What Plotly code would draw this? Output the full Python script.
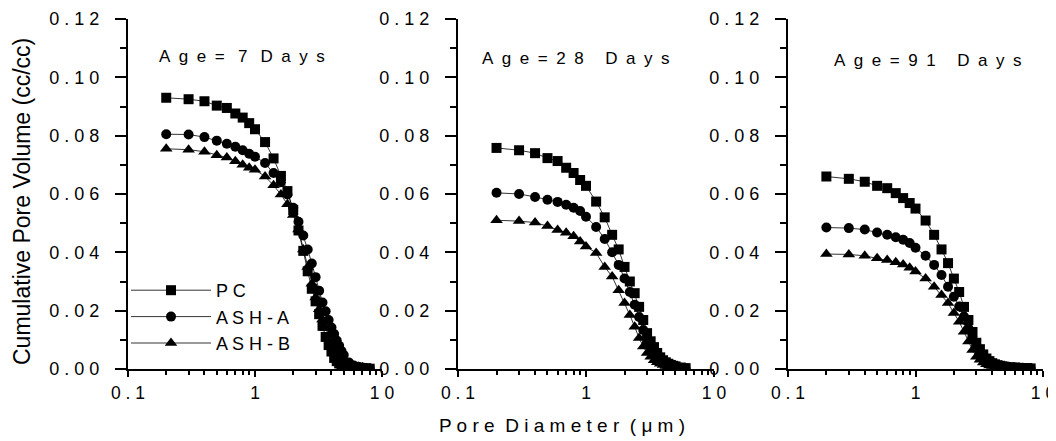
import plotly.graph_objects as go

# pore diameters (um)
x_full = [0.2, 0.3, 0.4, 0.5, 0.6, 0.7, 0.8, 0.9, 1.0,
          1.2, 1.4, 1.6, 1.8, 2.0, 2.2, 2.4, 2.6, 2.8, 3.0,
          3.2, 3.4, 3.6, 3.8, 4.0, 4.2, 4.4, 4.6, 4.8, 5.0,
          5.5, 6.0, 6.5, 7.0, 7.5, 8.0]
x_28 = x_full[:31]  # 28 day runs stop at 6 um

# 7 days
pc_7 = [0.0930, 0.0925, 0.0918, 0.0903, 0.0895, 0.0876, 0.0862, 0.0843, 0.0822,
        0.0778, 0.0722, 0.0662, 0.0610, 0.0545, 0.0475, 0.0405, 0.0335, 0.0275, 0.0232,
        0.0188, 0.0148, 0.0110, 0.0082, 0.0060, 0.0038, 0.0027, 0.0019, 0.0014, 0.0011,
        0.0007, 0.0005, 0.0004, 0.0003, 0.0002, 0.0001]
asha_7 = [0.0805, 0.0804, 0.0795, 0.0783, 0.0772, 0.0762, 0.0750, 0.0738, 0.0728,
          0.0706, 0.0672, 0.0640, 0.0598, 0.0553, 0.0505, 0.0458, 0.0410, 0.0362, 0.0315,
          0.0268, 0.0228, 0.0198, 0.0168, 0.0142, 0.0120, 0.0098, 0.0080, 0.0062, 0.0048,
          0.0022, 0.0012, 0.0008, 0.0005, 0.0003, 0.0002]
ashb_7 = [0.0755, 0.0752, 0.0745, 0.0733, 0.0725, 0.0712, 0.0700, 0.0690, 0.0683,
          0.0660, 0.0630, 0.0598, 0.0565, 0.0528, 0.0478, 0.0410, 0.0350, 0.0292, 0.0245,
          0.0205, 0.0170, 0.0140, 0.0115, 0.0090, 0.0070, 0.0055, 0.0042, 0.0032, 0.0025,
          0.0015, 0.0010, 0.0007, 0.0005, 0.0003, 0.0002]

# 28 days
pc_28 = [0.0758, 0.0750, 0.0740, 0.0723, 0.0713, 0.0690, 0.0672, 0.0648, 0.0628,
         0.0574, 0.0520, 0.0460, 0.0410, 0.0350, 0.0300, 0.0260, 0.0213, 0.0168, 0.0123,
         0.0095, 0.0075, 0.0055, 0.0040, 0.0030, 0.0023, 0.0018, 0.0014, 0.0011, 0.0009,
         0.0005, 0.0003]
asha_28 = [0.0604, 0.0600, 0.0590, 0.0580, 0.0573, 0.0563, 0.0553, 0.0542, 0.0522,
           0.0487, 0.0446, 0.0400, 0.0357, 0.0310, 0.0264, 0.0220, 0.0178, 0.0134, 0.0093,
           0.0070, 0.0052, 0.0038, 0.0028, 0.0020, 0.0015, 0.0012, 0.0010, 0.0008, 0.0006,
           0.0004, 0.0002]
ashb_28 = [0.0510, 0.0507, 0.0502, 0.0490, 0.0477, 0.0467, 0.0455, 0.0437, 0.0420,
           0.0398, 0.0350, 0.0317, 0.0270, 0.0226, 0.0185, 0.0145, 0.0106, 0.0077, 0.0055,
           0.0042, 0.0030, 0.0023, 0.0018, 0.0014, 0.0010, 0.0008, 0.0006, 0.0005, 0.0004,
           0.0003, 0.0002]

# 91 days
pc_91 = [0.0660, 0.0652, 0.0642, 0.0628, 0.0620, 0.0603, 0.0586, 0.0569, 0.0550,
         0.0509, 0.0460, 0.0410, 0.0363, 0.0310, 0.0264, 0.0213, 0.0168, 0.0127, 0.0090,
         0.0068, 0.0050, 0.0036, 0.0027, 0.0020, 0.0016, 0.0013, 0.0011, 0.0009, 0.0008,
         0.0006, 0.0005, 0.0004, 0.0003, 0.0003, 0.0002]
asha_91 = [0.0485, 0.0483, 0.0478, 0.0468, 0.0460, 0.0452, 0.0443, 0.0432, 0.0416,
           0.0388, 0.0357, 0.0322, 0.0282, 0.0248, 0.0214, 0.0180, 0.0140, 0.0106, 0.0078,
           0.0058, 0.0040, 0.0030, 0.0022, 0.0017, 0.0013, 0.0011, 0.0009, 0.0008, 0.0007,
           0.0006, 0.0005, 0.0004, 0.0003, 0.0003, 0.0002]
ashb_91 = [0.0394, 0.0393, 0.0388, 0.0380, 0.0374, 0.0366, 0.0358, 0.0347, 0.0334,
           0.0310, 0.0282, 0.0254, 0.0226, 0.0192, 0.0162, 0.0128, 0.0094, 0.0065, 0.0042,
           0.0032, 0.0022, 0.0016, 0.0012, 0.0010, 0.0008, 0.0007, 0.0006, 0.0005, 0.0004,
           0.0003, 0.0003, 0.0002, 0.0002, 0.0001, 0.0001]

series_names = ['P C', 'A S H - A', 'A S H - B']
symbols = ['square', 'circle', 'triangle-up']
marker_sizes = [10, 10, 11]
E = '\u2002'  # en space, for the wide letter spacing of the original
age_labels = [E.join('Age=') + E + ' ' + '7' + E + ' ' + E.join('Days'),
              E.join('Age=28') + E + ' ' + E + E.join('Days'),
              E.join('Age=91') + E + ' ' + E + E.join('Days')]

y_ticks = [0, 0.02, 0.04, 0.06, 0.08, 0.10, 0.12]
y_ticktext = ['0 . 0 0', '0 . 0 2', '0 . 0 4', '0 . 0 6', '0 . 0 8', '0 . 1 0', '0 . 1 2']
x_ticks = [0.1, 1, 10]
x_ticktext = ['0 . 1', '1', '1 0']
x_minor = [0.2, 0.3, 0.4, 0.5, 0.6, 0.7, 0.8, 0.9, 2, 3, 4, 5, 6, 7, 8, 9]

panels = [
    (x_full, [pc_7, asha_7, ashb_7]),
    (x_28, [pc_28, asha_28, ashb_28]),
    (x_full, [pc_91, asha_91, ashb_91]),
]

# the page body adds an 8px margin, so lay out in page pixels minus that
OFF = 8
W, H = 1056 - OFF, 441 - OFF
x_px = [(128, 382), (458, 714), (788, 1043)]
y_top, y_bot = 19, 369


def px_x(p):
    return (p - OFF) / W


def px_y(p):
    return 1 - (p - OFF) / H


FONT = 'Arial, Liberation Sans, sans-serif'

fig = go.Figure()
for i, (xs, ys_list) in enumerate(panels):
    n = '' if i == 0 else str(i + 1)
    for j, ys in enumerate(ys_list):
        fig.add_trace(go.Scatter(
            x=xs, y=ys, mode='lines+markers',
            name=series_names[j], showlegend=(i == 0),
            xaxis='x' + n, yaxis='y' + n,
            line=dict(color='black', width=0.8),
            marker=dict(symbol=symbols[j], size=marker_sizes[j], color='black'),
        ))

    ax = dict(
        type='log', range=[-1, 1],
        domain=[px_x(x_px[i][0]), px_x(x_px[i][1])],
        anchor='y' + n, automargin=False,
        showline=True, linewidth=2, linecolor='black',
        showgrid=False, zeroline=False,
        ticks='outside', ticklen=6, tickwidth=2, tickcolor='black',
        tickmode='array', tickvals=x_ticks, ticktext=x_ticktext,
        tickfont=dict(family=FONT, size=17.5, color='black'),
        ticklabelstandoff=1,
        minor=dict(tickmode='array', tickvals=x_minor, ticks='outside',
                   ticklen=4, tickwidth=1.5, tickcolor='black'),
    )
    ay = dict(
        range=[0, 0.12],
        domain=[px_y(y_bot), px_y(y_top)],
        anchor='x' + n, automargin=False,
        showline=True, linewidth=2, linecolor='black',
        showgrid=False, zeroline=False,
        ticks='outside', ticklen=11, tickwidth=2, tickcolor='black',
        tickmode='array', tickvals=y_ticks, ticktext=y_ticktext,
        tickfont=dict(family=FONT, size=18, color='black'),
        ticklabelstandoff=12,
        minor=dict(dtick=0.01, ticks='outside', ticklen=6,
                   tickwidth=1.5, tickcolor='black'),
    )
    fig.update_layout(**{'xaxis' + n: ax, 'yaxis' + n: ay})

# panel titles
age_pos = [(242, 57), (576, 58), (928, 61)]
for k, txt in enumerate(age_labels):
    fig.add_annotation(x=px_x(age_pos[k][0]), y=px_y(age_pos[k][1]),
                       xref='paper', yref='paper', xanchor='center', yanchor='middle',
                       text=txt, showarrow=False,
                       font=dict(family=FONT, size=17, color='black'))

# axis titles
fig.add_annotation(x=px_x(562), y=px_y(425), xref='paper', yref='paper',
                   xanchor='center', yanchor='middle',
                   text='P o r e  D i a m e t e r  ( \u03bc m )', showarrow=False,
                   font=dict(family=FONT, size=19, color='black'))
fig.add_annotation(x=px_x(22), y=px_y(202), xref='paper', yref='paper',
                   xanchor='center', yanchor='middle',
                   text='Cumulative Pore Volume (cc/cc)', textangle=-90, showarrow=False,
                   font=dict(family=FONT, size=23, color='black'))

fig.update_layout(
    width=W, height=H,
    margin=dict(l=0, r=0, t=0, b=0, autoexpand=False),
    paper_bgcolor='white', plot_bgcolor='white',
    legend=dict(x=px_x(126), y=px_y(272), xanchor='left', yanchor='top',
                bgcolor='rgba(0,0,0,0)', itemwidth=80, tracegroupgap=0,
                font=dict(family=FONT, size=18, color='black')),
)

fig.write_html('out.html')
